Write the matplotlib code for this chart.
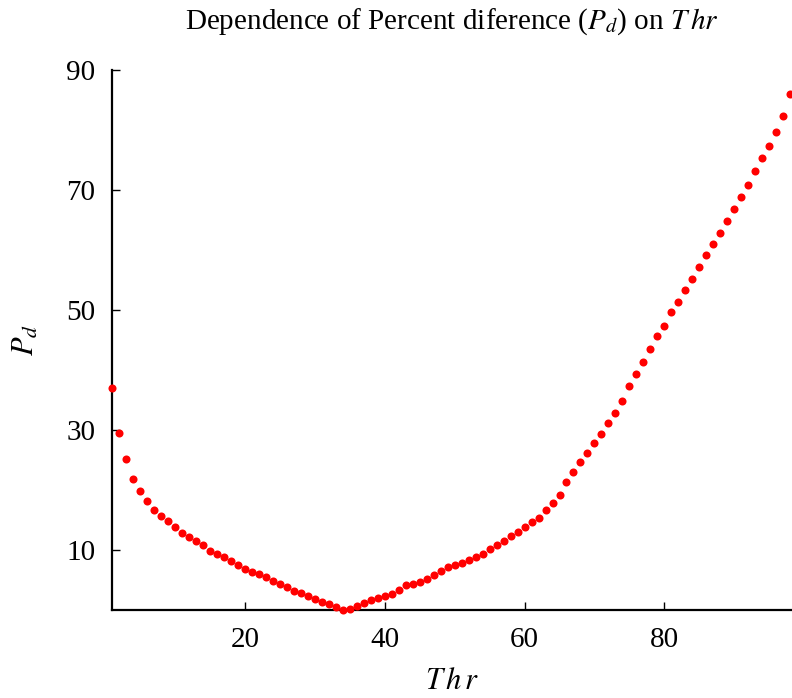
import matplotlib
matplotlib.use("Agg")
import matplotlib.pyplot as plt

plt.rcParams['font.family'] = ['Liberation Serif', 'DejaVu Serif']
plt.rcParams['mathtext.fontset'] = 'stix'

# threshold values and the percent difference at each one
thr = list(range(1, 99))
pd_vals = [
    37.05, 29.5, 25.2, 21.9, 19.9, 18.2, 16.7, 15.7, 14.8, 13.8,
    12.8, 12.2, 11.5, 10.8, 9.9, 9.4, 8.8, 8.1, 7.5, 6.9,
    6.4, 6.0, 5.5, 4.8, 4.3, 3.8, 3.2, 2.8, 2.3, 1.8,
    1.4, 1.05, 0.55, 0.0, 0.2, 0.7, 1.15, 1.67, 1.95, 2.28,
    2.72, 3.28, 4.1, 4.4, 4.7, 5.2, 5.9, 6.45, 7.1, 7.5,
    7.8, 8.3, 8.8, 9.3, 10.1, 10.9, 11.5, 12.3, 13.0, 13.9,
    14.6, 15.4, 16.6, 17.8, 19.25, 21.35, 23.05, 24.7, 26.2, 27.8,
    29.4, 31.2, 32.9, 34.9, 37.3, 39.3, 41.4, 43.5, 45.6, 47.4,
    49.6, 51.4, 53.3, 55.1, 57.2, 59.2, 61.05, 62.9, 64.9, 66.8,
    68.8, 70.9, 73.1, 75.3, 77.3, 79.7, 82.4, 86.0,
]
xticks = [20, 40, 60, 80]
yticks = [10, 30, 50, 70, 90]

fig = plt.figure(figsize=(7.92, 6.98), dpi=100)
ax = fig.add_axes([112 / 792, 1 - 610 / 698, 680 / 792, 540 / 698])

ax.plot(thr, pd_vals, 'o', color='red', ms=5.8, mec='none', clip_on=False, zorder=3)

ax.set_xlim(1, 98.25)
ax.set_ylim(0, 90)
ax.set_xticks(xticks)
ax.set_yticks(yticks)

for side in ('top', 'right'):
    ax.spines[side].set_visible(False)
for side in ('left', 'bottom'):
    ax.spines[side].set_linewidth(1.6)

ax.tick_params(direction='in', length=6, width=1.0, labelsize=21, pad=12)

ax.set_xlabel(r'$T\,h\,r$', fontsize=22, labelpad=10)
ax.set_ylabel('$P_d$', fontsize=22, labelpad=18)
ax.set_title(r'Dependence of Percent diference ($P_d$) on $T\,hr$', fontsize=21, pad=30)

fig.savefig('out.png', dpi=100)
